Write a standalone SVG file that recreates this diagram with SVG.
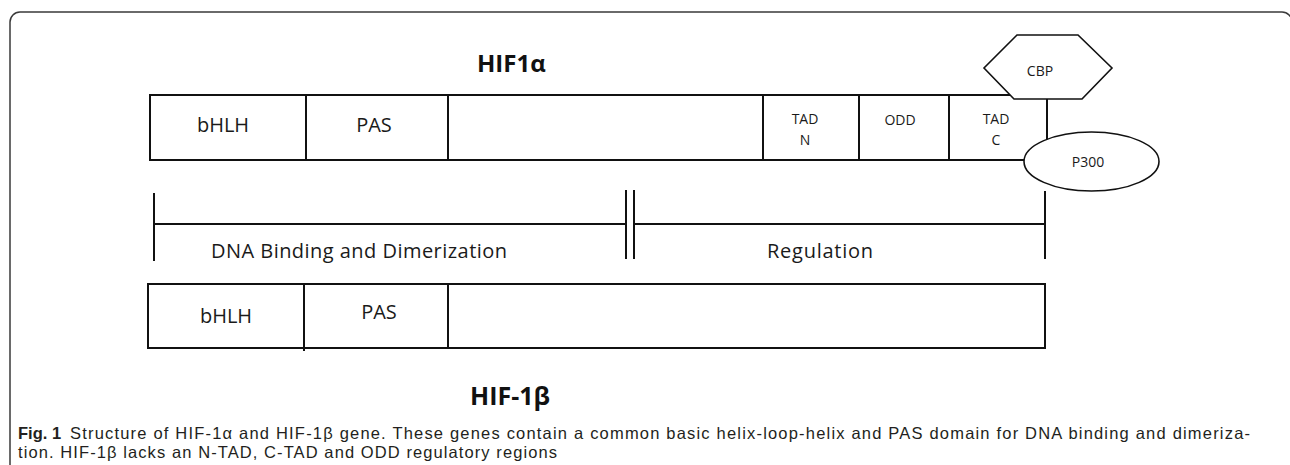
<svg xmlns="http://www.w3.org/2000/svg" width="1290" height="465" viewBox="0 0 1290 465">
  <style>
    .frame { fill: none; stroke: #3a3a3a; stroke-width: 1.5; }
    .box { fill: #ffffff; stroke: #111111; stroke-width: 2; }
    .ln { fill: none; stroke: #111111; stroke-width: 2; }
    .thin { fill: #ffffff; stroke: #111111; stroke-width: 1.6; }
    .lbl { font-family: "Open Sans", "DejaVu Sans", sans-serif; font-size: 20px; fill: #1a1a1a; text-anchor: middle; }
    .lbl-l { font-family: "Open Sans", "DejaVu Sans", sans-serif; font-size: 20px; fill: #1a1a1a; }
    .sm { font-family: "Open Sans", "DejaVu Sans", sans-serif; font-size: 14px; fill: #1a1a1a; text-anchor: middle; }
    .title { font-family: "Open Sans", "DejaVu Sans", sans-serif; font-weight: bold; fill: #111111; }
    .cap { font-family: "Liberation Sans", Arial, sans-serif; font-size: 16.5px; fill: #231f20; }
    .capb { font-family: "Liberation Sans", Arial, sans-serif; font-size: 16.5px; font-weight: bold; fill: #231f20; }
  </style>

  <!-- panel outline (rounded corner top-left, continues past the right/bottom edges) -->
  <rect class="frame" x="10" y="12" width="1282" height="470" rx="10" ry="10"/>

  <!-- HIF-1 alpha title -->
  <text class="title" x="477" y="72" font-size="24">HIF1α</text>

  <!-- HIF-1 alpha domain bar -->
  <g id="hif1a">
    <rect class="box" x="150" y="95" width="897" height="65"/>
    <line class="ln" x1="306" y1="95" x2="306" y2="160"/>
    <line class="ln" x1="448" y1="95" x2="448" y2="160"/>
    <line class="ln" x1="763" y1="95" x2="763" y2="160"/>
    <line class="ln" x1="859" y1="95" x2="859" y2="160"/>
    <line class="ln" x1="949" y1="95" x2="949" y2="160"/>
    <text class="lbl" x="223" y="132">bHLH</text>
    <text class="lbl" x="374" y="132">PAS</text>
    <text class="sm" x="805" y="124">TAD</text>
    <text class="sm" x="805" y="145">N</text>
    <text class="sm" x="900" y="125">ODD</text>
    <text class="sm" x="996" y="124">TAD</text>
    <text class="sm" x="996" y="145">C</text>
  </g>

  <!-- coactivator link -->
  <g id="connectors">
    <line class="ln" x1="1047" y1="99" x2="1047" y2="134"/>
  </g>

  <g id="cbp">
    <polygon class="thin" points="1017,35 1078,35 1112,68 1082,99 1014,99 984,68"/>
    <text class="sm" x="1040" y="76">CBP</text>
  </g>

  <g id="p300">
    <ellipse class="thin" cx="1091.5" cy="161.5" rx="67.5" ry="29.5"/>
    <text class="sm" x="1088" y="167">P300</text>
  </g>

  <!-- functional region scale -->
  <g id="scale">
    <line class="ln" x1="154" y1="193" x2="154" y2="261"/>
    <line class="ln" x1="154" y1="224" x2="626" y2="224"/>
    <line class="ln" x1="626" y1="190" x2="626" y2="259"/>
    <line class="ln" x1="634" y1="190" x2="634" y2="259"/>
    <line class="ln" x1="634" y1="224" x2="1045" y2="224"/>
    <line class="ln" x1="1045" y1="191" x2="1045" y2="259"/>
    <text class="lbl-l" x="211" y="258" textLength="296">DNA Binding and Dimerization</text>
    <text class="lbl-l" x="767" y="258" textLength="106">Regulation</text>
  </g>

  <!-- HIF-1 beta domain bar -->
  <g id="hif1b">
    <rect class="box" x="148" y="284" width="897" height="64"/>
    <line class="ln" x1="304" y1="284" x2="304" y2="351"/>
    <line class="ln" x1="448" y1="284" x2="448" y2="348"/>
    <text class="lbl" x="226" y="323">bHLH</text>
    <text class="lbl" x="379" y="319">PAS</text>
  </g>

  <text class="title" x="470" y="405" font-size="25">HIF-1β</text>

  <!-- caption -->
  <g id="caption">
    <text class="capb" x="18" y="439">Fig. 1</text>
    <text class="cap" x="70" y="439" textLength="1180">Structure of HIF-1α and HIF-1β gene. These genes contain a common basic helix-loop-helix and PAS domain for DNA binding and dimeriza-</text>
    <text class="cap" x="18" y="458" textLength="539">tion. HIF-1β lacks an N-TAD, C-TAD and ODD regulatory regions</text>
  </g>
</svg>
